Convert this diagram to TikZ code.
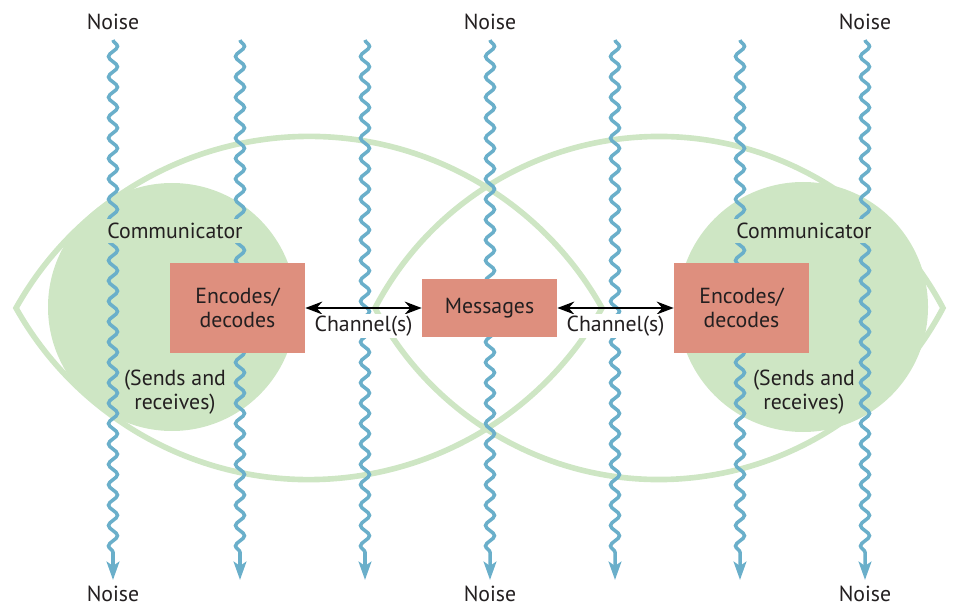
\documentclass[tikz,border=0pt]{standalone}
\usepackage{fontspec}
\setmainfont{PT Sans}
\usetikzlibrary{positioning}
\usetikzlibrary{arrows.meta}
\usetikzlibrary{decorations,decorations.pathmorphing}

\definecolor{eyegreen}{HTML}{CEE6C4}
\definecolor{noiseblue}{HTML}{6AAFCA}
\definecolor{boxred}{HTML}{DE8F7E}
\definecolor{inkgrey}{HTML}{231F20}

\begin{document}
\begin{tikzpicture}[
        x=0.025cm, y=0.025cm,
        font=\fontsize{15.5}{17}\selectfont, text=inkgrey,
        noise/.style = {draw=noiseblue, line width=2.5pt, -{Stealth[length=13pt,width=9pt,inset=3pt]},
            decorate, decoration={snake, amplitude=3.2pt, segment length=14.5pt, post length=14pt}},
        eye/.style = {draw=eyegreen, line width=4pt, line join=miter},
        msgbox/.style = {fill=boxred, minimum width=3.375cm, align=center, inner sep=0pt},
        chan/.style = {draw=black, line width=2pt, {Stealth[length=12pt,width=9pt]}-{Stealth[length=12pt,width=9pt]}},
        chanlabel/.style = {fill=white, inner sep=1pt, yshift=-0.45cm},
        commlabel/.style = {fill=eyegreen, inner xsep=6pt, inner ysep=3pt}
    ]
    \useasboundingbox (0,0) rectangle (958,606);
    % communicators and the two eyes
    \fill[eyegreen] (172,299) circle[radius=124];
    \fill[eyegreen] (803,299) circle[radius=125];
    \draw[eye] (16,298) arc[start angle=150.7, end angle=29.3, radius=336]
        arc[start angle=-29.3, end angle=-150.7, radius=336] -- cycle;
    \draw[eye] (375,298) arc[start angle=152.25, end angle=27.75, radius=320.9]
        arc[start angle=-27.75, end angle=-152.25, radius=320.9] -- cycle;
    % noise
    \draw[noise] (113,566) -- (113,26);
    \draw[noise] (240,566) -- (240,26);
    \draw[noise] (365,566) -- (365,26);
    \draw[noise] (490,566) -- (490,26);
    \draw[noise] (615,566) -- (615,26);
    \draw[noise] (740,566) -- (740,26);
    \draw[noise] (865,566) -- (865,26);
    \node (noise1t) at (113,584) {Noise};
    \node (noise2t) at (490,584) {Noise};
    \node (noise3t) at (865,584) {Noise};
    \node (noise1b) at (113,12) {Noise};
    \node (noise2b) at (490,12) {Noise};
    \node (noise3b) at (865,12) {Noise};
    % boxes
    \node[msgbox, minimum height=2.25cm] (codeL) at (237.5,298) {Encodes/\\decodes};
    \node[msgbox, minimum height=1.45cm] (msg) at (489.5,298) {Messages};
    \node[msgbox, minimum height=2.25cm] (codeR) at (741.5,298) {Encodes/\\decodes};
    \draw[chan] (codeL) -- node[chanlabel] (chanL) {Channel(s)} (msg);
    \draw[chan] (codeR) -- node[chanlabel] (chanR) {Channel(s)} (msg);
    \node[commlabel] (commL) at (175,375) {Communicator};
    \node[commlabel] (commR) at (804,375) {Communicator};
    \node[align=center] (sendL) at (175,214) {(Sends and\\receives)};
    \node[align=center] (sendR) at (804,214) {(Sends and\\receives)};
\end{tikzpicture}
\end{document}
